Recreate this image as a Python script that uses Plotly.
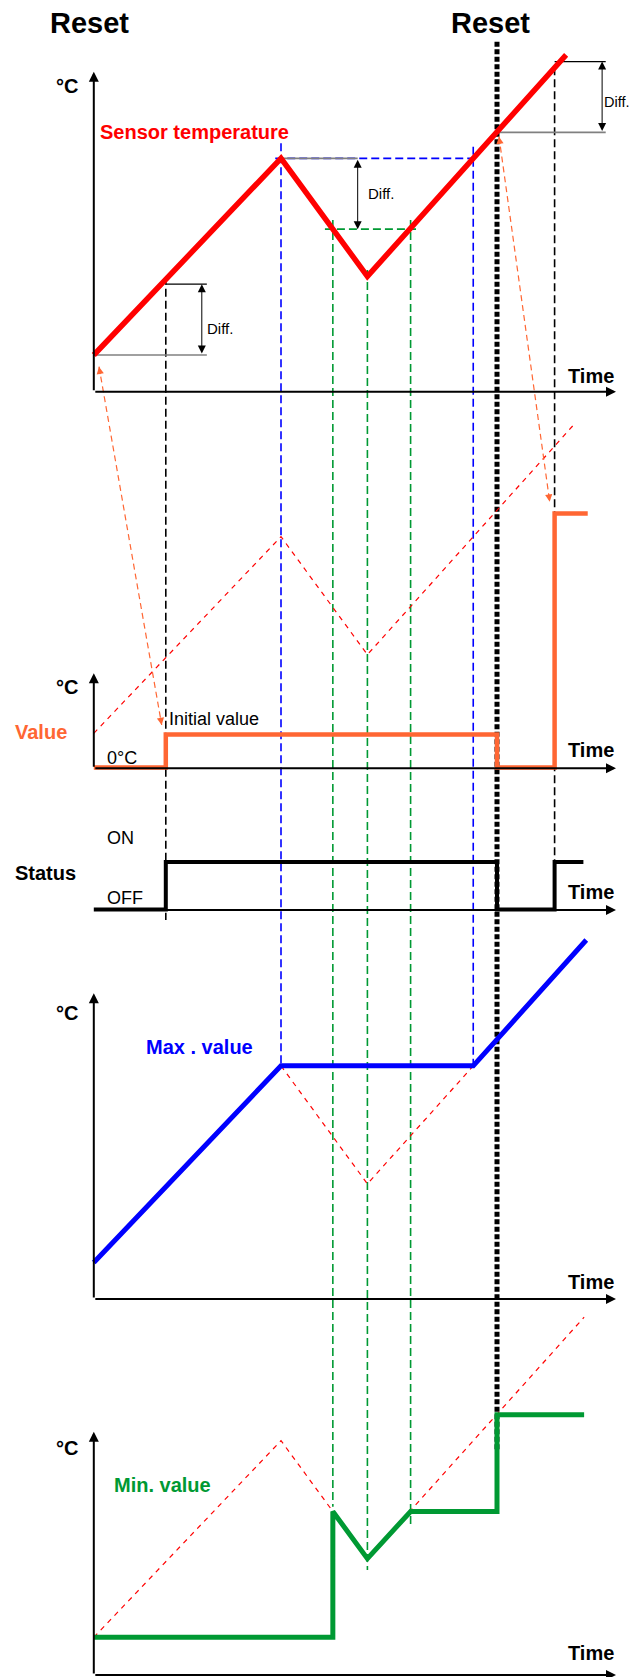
import numpy as np
import plotly.graph_objects as go

W, H = 633, 1677
FONT = "Liberation Sans, Arial, sans-serif"

# ---------------- data (time units, °C) ----------------
sensor_t = [0, 26, 38, 68.4]          # sensor temperature key points
sensor_T = [20, 45, 30, 61]

value_t = [0, 10, 10, 56, 56, 64, 64, 68.6]   # output "Value"
value_v = [0, 0, 4.2, 4.2, 0, 0, 32.3, 32.3]

status_t = [0, 10, 10, 56, 56, 64, 64, 68.0]  # Status OFF=0 / ON=1
status_v = [0, 0, 1, 1, 0, 0, 1, 1]

max_t = [0, 26, 52.7, 68.4]                   # Max. value
max_T = [20, 45, 45, 61]

min_t = [0, 33.2, 33.2, 38, 44, 56, 56, 68.1]  # Min. value
min_T = [20, 20, 36, 30, 36, 36, 48.3, 48.3]

# event times: status on, peak, min crossing, trough, min re-crossing, max re-crossing, reset, status on
event_t = [10, 26, 33.2, 38, 44, 52.7, 56, 64]
diff = 9
start_T = 20
peak_T = 45
reset_T = 48.3

# ---------------- layout helpers ----------------
X0, KX = 93.8, 7.2     # pixel of t=0, pixels per time unit
PPU = 7.866            # pixels per °C


def yrange(ref_val, ref_px, ppu=PPU):
    return [ref_val - (H - ref_px) / ppu, ref_val + ref_px / ppu]


def pxx(x):
    return x / W


def pxy(y):
    return 1 - y / H


def seg(t0, t1):
    ts = [t0] + [k for k in sensor_t if t0 < k < t1] + [t1]
    return ts, list(np.interp(ts, sensor_t, sensor_T))


RED, ORANGE, BLUE, GREEN, GRAY = "#ff0000", "#ff6633", "#0000ff", "#009933", "#808080"

fig = go.Figure()

ghost = dict(color=RED, width=1.2, dash="5px,5px")
gt, gv = seg(0, 66.7)
fig.add_trace(go.Scatter(x=gt, y=gv, yaxis="y2", mode="lines", line=ghost))
gt, gv = seg(event_t[1], event_t[5])
fig.add_trace(go.Scatter(x=gt, y=gv, yaxis="y5", mode="lines", line=ghost))
gt, gv = seg(0, 68.1)
fig.add_trace(go.Scatter(x=gt, y=gv, yaxis="y6", mode="lines", line=ghost))

st, sv = seg(0, 65.6)
fig.add_trace(go.Scatter(x=st, y=sv, yaxis="y", mode="lines", line=dict(color=RED, width=5.5)))
fig.add_trace(go.Scatter(x=value_t, y=value_v, yaxis="y3", mode="lines", line=dict(color=ORANGE, width=4.5)))
fig.add_trace(go.Scatter(x=status_t, y=status_v, yaxis="y4", mode="lines", line=dict(color="black", width=4)))
fig.add_trace(go.Scatter(x=max_t, y=max_T, yaxis="y5", mode="lines", line=dict(color=BLUE, width=5)))
fig.add_trace(go.Scatter(x=min_t, y=min_T, yaxis="y6", mode="lines", line=dict(color=GREEN, width=5)))

shapes = []
# vertical guide lines (time from data, vertical extent in pixels)
guides = [
    (event_t[0], "black", 276.7, 920),
    (event_t[7], "black", 67.3, 861.7),
    (event_t[1], BLUE, 143.3, 1066.7),
    (event_t[5], BLUE, 146.7, 1066.7),
    (event_t[2], GREEN, 220, 1506.7),
    (event_t[3], GREEN, 270, 1570),
    (event_t[4], GREEN, 220, 1525),
]
for t, c, ya, yb in guides:
    shapes.append(dict(type="line", xref="x", yref="paper", x0=t, x1=t, y0=pxy(ya), y1=pxy(yb),
                       line=dict(color=c, width=1.6, dash="8px,4px"), layer="below"))
shapes.append(dict(type="line", xref="x", yref="paper", x0=event_t[6], x1=event_t[6], y0=pxy(41.7), y1=pxy(1451.7),
                   line=dict(color="black", width=5, dash="5px,2.5px"), layer="below"))

# horizontal guides on the sensor panel
shapes.append(dict(type="line", xref="x", yref="y", x0=25.2, x1=event_t[5], y0=peak_T, y1=peak_T,
                   line=dict(color=BLUE, width=1.6, dash="8px,4px"), layer="below"))
shapes.append(dict(type="line", xref="x", yref="y", x0=32.1, x1=44.75, y0=peak_T - diff, y1=peak_T - diff,
                   line=dict(color=GREEN, width=1.6, dash="8px,4px"), layer="below"))


# Diff brackets
def hline(t0, t1, v, color, width=1.3):
    shapes.append(dict(type="line", xref="x", yref="y", x0=t0, x1=t1, y0=v, y1=v,
                       line=dict(color=color, width=width), layer="below"))


hline(0, 15.7, start_T, GRAY, 1.6)
hline(event_t[0], 15.7, start_T + diff, "black")
hline(event_t[1], 36.65, peak_T, GRAY, 1.6)
hline(56.4, 71.1, reset_T, GRAY, 1.6)
hline(event_t[7], 71.1, reset_T + diff, "black")

annotations = []


def darrow(t, v0, v1):
    annotations.append(dict(x=t, y=v1, ax=t, ay=v0, xref="x", yref="y", axref="x", ayref="y", text="",
                            showarrow=True, arrowside="end+start", arrowhead=2, startarrowhead=2,
                            arrowsize=1.6, startarrowsize=1.6, arrowwidth=1, arrowcolor="black"))


darrow(15.0, start_T, start_T + diff)
darrow(36.65, peak_T, peak_T - diff)
darrow(70.6, reset_T, reset_T + diff)


def label(text, x, y, size, color="black", bold=False, xanchor="center"):
    annotations.append(dict(text=text, x=pxx(x), y=pxy(y), xref="paper", yref="paper", showarrow=False,
                            xanchor=xanchor, yanchor="middle",
                            font=dict(family=FONT, size=size, color=color, weight="bold" if bold else "normal")))


label("Diff.", 205, 328.3, 15, xanchor="left")
label("Diff.", 366, 193.3, 15, xanchor="left")
label("Diff.", 632, 101.7, 14.5, xanchor="right")

label("Reset", 89, 23, 29, bold=True)
label("Reset", 490, 23, 29, bold=True)
for yy in (86, 686.7, 1013.3, 1448.3):
    label("°C", 67, yy, 20, bold=True)
for yy in (375.5, 750, 891.7, 1281.7, 1653.3):
    label("Time", 616, yy, 20, bold=True, xanchor="right")
label("Sensor temperature", 98, 131.7, 20, RED, True, "left")
label("Value", 40.6, 731.7, 20, ORANGE, True)
label("Initial value", 167, 719.3, 18, xanchor="left")
label("0°C", 105, 757.7, 18, xanchor="left")
label("ON", 105, 837.7, 18, xanchor="left")
label("OFF", 105, 897.7, 18, xanchor="left")
label("Status", 45, 872.7, 20, bold=True)
label("Max . value", 199, 1046.7, 20, BLUE, True)
label("Min. value", 162.7, 1485, 20, GREEN, True)


# axis arrows (pixel geometry)
def arrow(xt, yt, xs, ys, color="black", width=2, size=1.0, head=2):
    annotations.append(dict(x=pxx(xt), y=pxy(yt), xref="paper", yref="paper", ax=xs - xt, ay=ys - yt,
                            axref="pixel", ayref="pixel", text="", showarrow=True, arrowhead=head,
                            arrowsize=size, arrowwidth=width, arrowcolor=color, standoff=0))


for ybase, ytop in ((391.7, 71.7), (768.3, 673.3), (1299, 993.3), (1675, 1431.7)):
    arrow(X0, ytop, X0, ybase)
    arrow(616, ybase, X0, ybase)
arrow(616, 910, X0, 910)


# orange dashed double arrows (sensor value -> output value)
def dashed_link(xa, ya, xb, yb):
    shapes.append(dict(type="line", xref="paper", yref="paper", x0=pxx(xa), y0=pxy(ya), x1=pxx(xb), y1=pxy(yb),
                       line=dict(color=ORANGE, width=1.2, dash="6px,4px")))
    d = np.hypot(xb - xa, yb - ya)
    ux, uy = (xb - xa) / d, (yb - ya) / d
    L = 9
    annotations.append(dict(x=pxx(xa), y=pxy(ya), xref="paper", yref="paper", ax=ux * L, ay=uy * L,
                            axref="pixel", ayref="pixel", text="", showarrow=True, arrowhead=2,
                            arrowsize=1.2, arrowwidth=1.2, arrowcolor=ORANGE, standoff=0))
    annotations.append(dict(x=pxx(xb), y=pxy(yb), xref="paper", yref="paper", ax=-ux * L, ay=-uy * L,
                            axref="pixel", ayref="pixel", text="", showarrow=True, arrowhead=2,
                            arrowsize=1.2, arrowwidth=1.2, arrowcolor=ORANGE, standoff=0))


dashed_link(99, 366.7, 161.7, 725)
dashed_link(499, 136.7, 549.7, 501.7)

yax = dict(visible=False, fixedrange=True)
fig.update_layout(
    width=W, height=H, margin=dict(l=0, r=0, t=0, b=0),
    paper_bgcolor="white", plot_bgcolor="white", showlegend=False,
    xaxis=dict(visible=False, range=[-X0 / KX, (W - X0) / KX]),
    yaxis=dict(yax, range=yrange(start_T, 355)),
    yaxis2=dict(yax, range=yrange(start_T, 733.3), overlaying="y", anchor="x"),
    yaxis3=dict(yax, range=yrange(0, 767.5), overlaying="y", anchor="x"),
    yaxis4=dict(yax, range=yrange(0, 909.5, 47.5), overlaying="y", anchor="x"),
    yaxis5=dict(yax, range=yrange(start_T, 1262.5), overlaying="y", anchor="x"),
    yaxis6=dict(yax, range=yrange(start_T, 1637.3), overlaying="y", anchor="x"),
    shapes=shapes, annotations=annotations,
)

fig.write_html("out.html", config={"displayModeBar": False},
               post_script="document.body.style.margin='0';document.body.style.overflow='hidden';")
